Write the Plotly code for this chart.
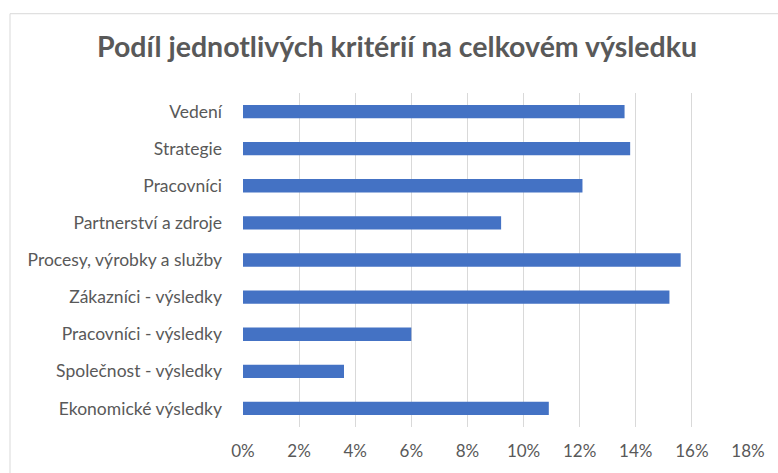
import plotly.graph_objects as go

categories = ["Vedení", "Strategie", "Pracovníci", "Partnerství a zdroje",
              "Procesy, výrobky a služby", "Zákazníci - výsledky",
              "Pracovníci - výsledky", "Společnost - výsledky", "Ekonomické výsledky"]
values = [0.136, 0.138, 0.121, 0.092, 0.156, 0.152, 0.060, 0.036, 0.109]
title_text = "Podíl jednotlivých kritérií na celkovém výsledku"

W, H = 778, 473
L, R, T, B = 243, 748, 93, 430
pw, ph = R - L, B - T

fig = go.Figure(go.Bar(
    x=values, y=categories, orientation="h",
    marker=dict(color="#4472c4", line=dict(width=0)),
    width=0.36,
))

fig.update_layout(
    width=W, height=H,
    margin=dict(l=L, r=W - R, t=T, b=H - B, pad=0),
    paper_bgcolor="white", plot_bgcolor="white",
    font=dict(family="Lato", color="#595959", size=17),
    title=dict(text="<b>" + title_text + "</b>", x=397 / W, xanchor="center", y=1 - 47 / H, yanchor="middle",
               xref="container", yref="container",
               font=dict(family="Lato", size=28.5, color="#595959")),
    showlegend=False,
    xaxis=dict(range=[0, 0.18], dtick=0.02, tickformat=".0%", showgrid=True,
               gridcolor="#d9d9d9", gridwidth=1, zeroline=False, showline=False,
               ticks="", ticklabelstandoff=12,
               tickfont=dict(size=17, color="#595959"), fixedrange=True),
    yaxis=dict(categoryorder="array", categoryarray=categories, autorange="reversed",
               showgrid=False, zeroline=False, showline=False, ticks="",
               ticklabelstandoff=20,
               tickfont=dict(size=17.5, color="#595959"), fixedrange=True),
    shapes=[dict(type="rect", xref="paper", yref="paper",
                 x0=(10 - L) / pw, x1=(W + 20 - L) / pw,
                 y0=(B - (H + 20)) / ph, y1=(B - 13) / ph,
                 line=dict(color="#d9d9d9", width=1), fillcolor="rgba(0,0,0,0)", layer="below")],
)

fig.write_html("out.html", config={"displayModeBar": False},
               post_script="document.body.style.margin='0';")
